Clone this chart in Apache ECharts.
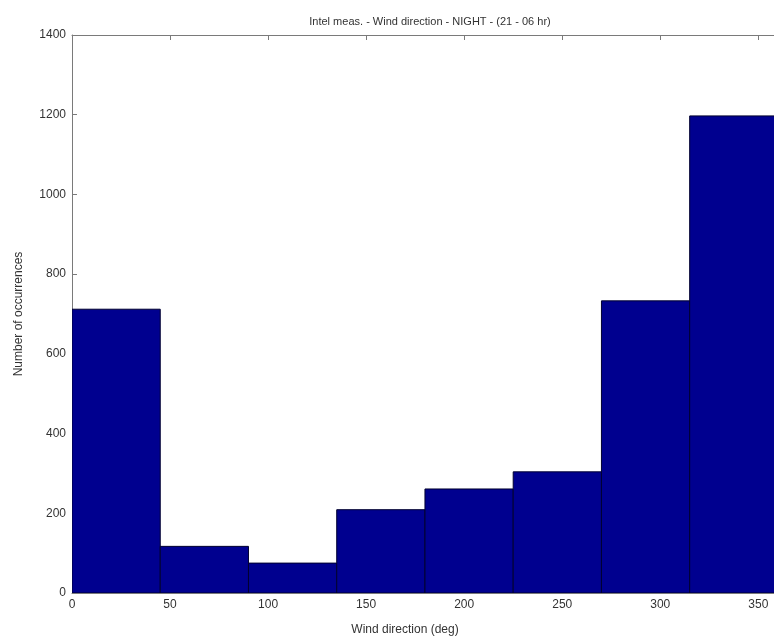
<!DOCTYPE html>
<html>
<head>
<meta charset="utf-8">
<script src="https://cdn.jsdelivr.net/npm/echarts@6/dist/echarts.min.js"></script>
<style>
  html, body { margin: 0; padding: 0; background: #fff; }
  #chart { width: 774px; height: 637px; }
</style>
</head>
<body>
<div id="chart"></div>
<script>
// histogram bins (deg) and counts
var binStart = [0, 45, 90, 135, 180, 225, 270, 315]
var binEnd = [45, 90, 135, 180, 225, 270, 315, 360]
var counts = [712, 117, 75, 209, 261, 304, 733, 1197]

var titleText = 'Intel meas. - Wind direction - NIGHT - (21 - 06 hr)'
var xName = 'Wind direction (deg)'
var yName = 'Number of occurrences'

// the original figure is cropped on the right, a bit before 360
var xVisibleMax = 358

var font = 'Liberation Sans, Arial, sans-serif'
var textColor = '#333'
var axisColor = '#7a7a7a'

var bins = binStart.map(function (s, i) {
  return [s, binEnd[i], counts[i]]
})

var plain = function (v) { return v % 50 === 0 ? String(v) : '' }

var chart = echarts.init(document.getElementById('chart'))

chart.setOption({
  animation: false,
  backgroundColor: '#fff',
  title: [{
    text: titleText,
    left: 425,
    top: 11,
    textAlign: 'center',
    textStyle: { fontFamily: font, fontSize: 11, fontWeight: 'normal', color: textColor }
  }, {
    text: xName,
    left: 400,
    top: 619,
    textAlign: 'center',
    textStyle: { fontFamily: font, fontSize: 12, fontWeight: 'normal', color: textColor }
  }],
  grid: {
    left: 72,
    top: 35,
    height: 558,
    right: 0
  },
  xAxis: [{
    type: 'value',
    min: 0,
    max: xVisibleMax,
    interval: 50,
    position: 'bottom',
    axisLine: { lineStyle: { color: axisColor, width: 1 } },
    axisTick: { inside: true, length: 5, lineStyle: { color: axisColor } },
    axisLabel: { margin: 6, fontFamily: font, fontSize: 12, color: textColor, formatter: plain, showMaxLabel: false },
    splitLine: { show: false }
  }, {
    type: 'value',
    min: 0,
    max: xVisibleMax,
    interval: 50,
    position: 'top',
    axisLine: { show: true, lineStyle: { color: axisColor, width: 1 } },
    axisTick: { show: true, inside: true, length: 5, lineStyle: { color: axisColor } },
    axisLabel: { show: false },
    splitLine: { show: false }
  }],
  yAxis: {
    type: 'value',
    min: 0,
    max: 1400,
    interval: 200,
    name: yName,
    nameLocation: 'middle',
    nameGap: 47,
    nameRotate: 90,
    nameTextStyle: { fontFamily: font, fontSize: 12, color: textColor },
    axisLine: { show: true, lineStyle: { color: axisColor, width: 1 } },
    axisTick: { show: true, inside: true, length: 5, lineStyle: { color: axisColor } },
    axisLabel: { margin: 6, fontFamily: font, fontSize: 12, color: textColor, formatter: plain },
    splitLine: { show: false }
  },
  series: [{
    type: 'custom',
    xAxisIndex: 0,
    data: bins,
    encode: { x: [0, 1], y: 2 },
    clip: true,
    renderItem: function (params, api) {
      var p0 = api.coord([api.value(0), 0])
      var p1 = api.coord([api.value(1), api.value(2)])
      return {
        type: 'rect',
        shape: {
          x: p0[0],
          y: p1[1],
          width: p1[0] - p0[0],
          height: p0[1] - p1[1]
        },
        style: {
          fill: '#00008F',
          stroke: '#000030',
          lineWidth: 1
        }
      }
    }
  }]
})
</script>
</body>
</html>
